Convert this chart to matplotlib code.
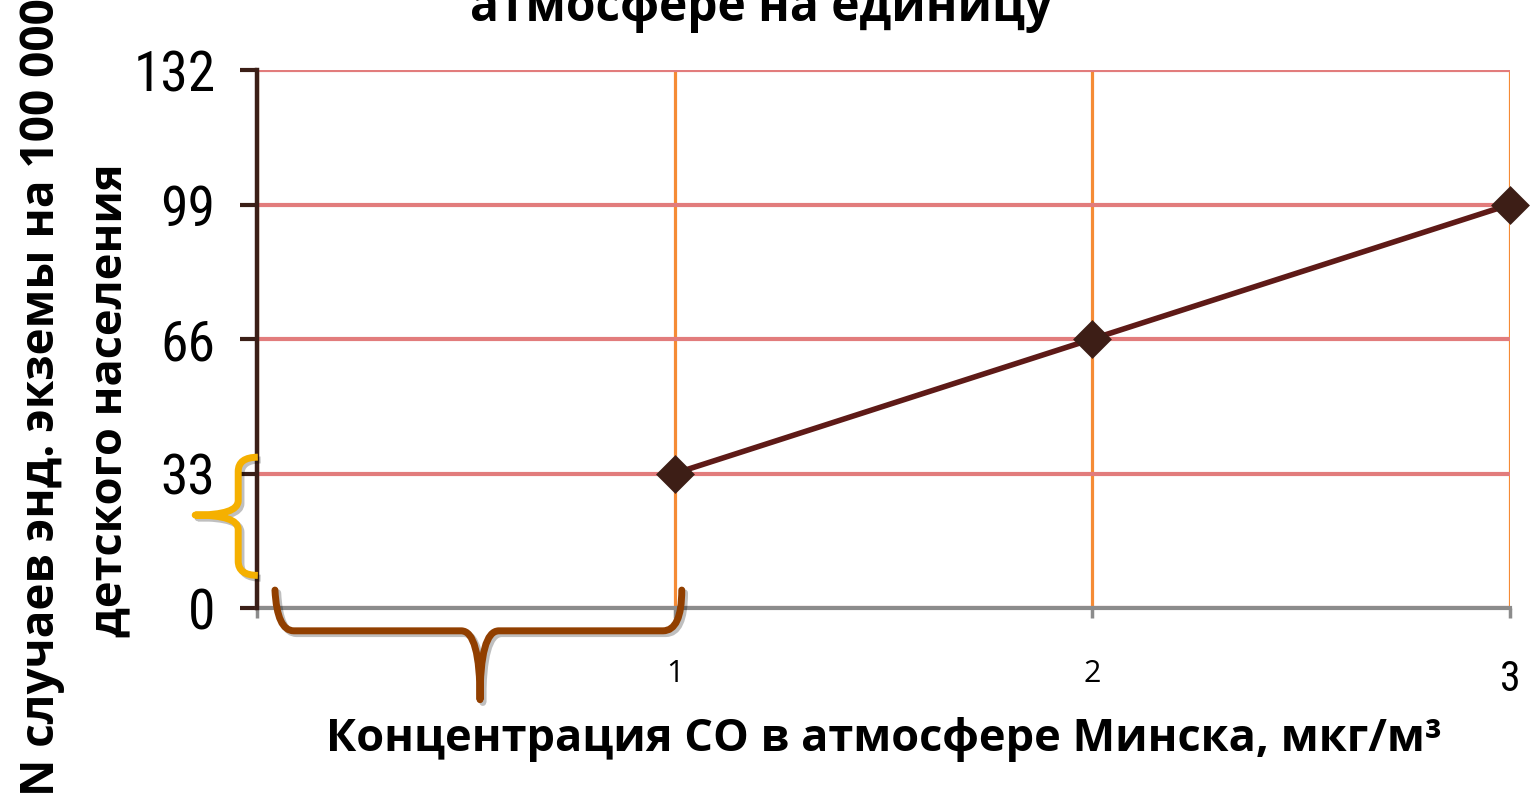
import matplotlib.pyplot as plt
from matplotlib.path import Path
from matplotlib.patches import PathPatch
import matplotlib.patheffects as pe

# data
co_conc = [1, 2, 3]
cases = [33, 66, 99]
y_ticks = [0, 33, 66, 99, 132]
x_ticks = [0, 1, 2, 3]
x_tick_labels = ['', '1', '2', '3']

title = 'атмосфере на единицу'
ylabel_1 = 'N случаев энд. экземы на 100 000'
ylabel_2 = 'детского населения'
xlabel = 'Концентрация СО в атмосфере Минска, мкг/м³'

# braces marking one step of CO and the matching rise in cases
x_brace = (0.043, 1.017)
y_brace = (8, 37)

narrow = ['Roboto Condensed', 'Liberation Sans Narrow', 'Liberation Sans', 'DejaVu Sans']
bold_font = ['Open Sans', 'DejaVu Sans']

fig = plt.figure(figsize=(15.32, 7.95), dpi=100)
ax = fig.add_axes([257 / 1532, 1 - 608 / 795, (1510 - 257) / 1532, (608 - 70) / 795])
ax.set_xlim(0, 3)
ax.set_ylim(0, 132)

ax.set_yticks(y_ticks)
ax.set_xticks(x_ticks)
ax.set_xticklabels(x_tick_labels)
for lab in ax.get_yticklabels():
    lab.set_family(narrow)
    lab.set_fontsize(40)
xl = ax.get_xticklabels()
for lab in xl:
    lab.set_family(bold_font)
    lab.set_fontsize(22)
xl[-1].set_fontsize(30)
xl[-1].set_family(narrow)

ax.yaxis.grid(True, color='#E27C7C', lw=3, zorder=1)
ax.xaxis.grid(True, color='#F58B35', lw=2.3, zorder=1)
ax.set_axisbelow(True)

for s in ['top', 'right']:
    ax.spines[s].set_visible(False)
ax.spines['bottom'].set_color('#8C8C8C')
ax.spines['bottom'].set_linewidth(3)
ax.spines['left'].set_color('#3B1F17')
ax.spines['left'].set_linewidth(3.2)
ax.spines['left'].set_zorder(4)

ax.tick_params(axis='y', direction='out', length=12, width=3, color='#3B1F17', pad=18)
ax.tick_params(axis='x', direction='out', length=7, width=2.5, color='#8C8C8C', pad=30)

ax.plot(co_conc, cases, color='#5E1A17', lw=4, marker='D', ms=17,
        mfc='#3D1E16', mec='#3D1E16', mew=2.5, solid_joinstyle='round',
        zorder=5, clip_on=False)

shadow = [pe.SimpleLineShadow(offset=(2, -2), alpha=0.25), pe.Normal()]

# horizontal brace under the x axis
x0, x1 = x_brace
xm = (x0 + x1) / 2 + 0.004
top, bar, tip = 4.4, -5.6, -22.5
dx = 0.045
verts = [(x0, top), (x0 + 0.005, bar), (x0 + dx, bar),
         (xm - dx, bar), (xm, bar), (xm, tip),
         (xm, bar), (xm + dx, bar),
         (x1 - dx, bar), (x1, bar), (x1, top)]
codes = [Path.MOVETO, Path.CURVE3, Path.CURVE3,
         Path.LINETO, Path.CURVE3, Path.CURVE3,
         Path.CURVE3, Path.CURVE3,
         Path.LINETO, Path.CURVE3, Path.CURVE3]
ax.add_patch(PathPatch(Path(verts, codes), fill=False, edgecolor='#913F00', lw=5,
                       capstyle='round', joinstyle='round', clip_on=False, zorder=6,
                       path_effects=shadow))

# vertical brace left of the y axis
y0, y1 = y_brace
ym = 22.8
right, vbar, vtip = 0.002, -0.045, -0.148
vdy = 3.5
verts = [(right, y1), (vbar, y1), (vbar, y1 - vdy),
         (vbar, ym + vdy), (vbar, ym), (vtip, ym),
         (vbar, ym), (vbar, ym - vdy),
         (vbar, y0 + vdy), (vbar, y0), (right, y0)]
ax.add_patch(PathPatch(Path(verts, codes), fill=False, edgecolor='#F5B000', lw=5,
                       capstyle='butt', joinstyle='round', clip_on=False, zorder=6,
                       path_effects=shadow))

fig.text(0.497, 1 - 21 / 795, title, ha='center', va='baseline', fontsize=34.5,
         weight='bold', family=bold_font)
fig.text(42 / 1532, 1 - 397 / 795, ylabel_1, rotation=90, ha='center', va='center',
         fontsize=33, weight='bold', family=bold_font)
fig.text(110 / 1532, 1 - 400 / 795, ylabel_2, rotation=90, ha='center', va='center',
         fontsize=32.5, weight='bold', family=bold_font)
fig.text(884 / 1532, 1 - 740 / 795, xlabel, ha='center', va='center', fontsize=32.5,
         weight='bold', family=bold_font)

fig.savefig('out.png', dpi=100)
